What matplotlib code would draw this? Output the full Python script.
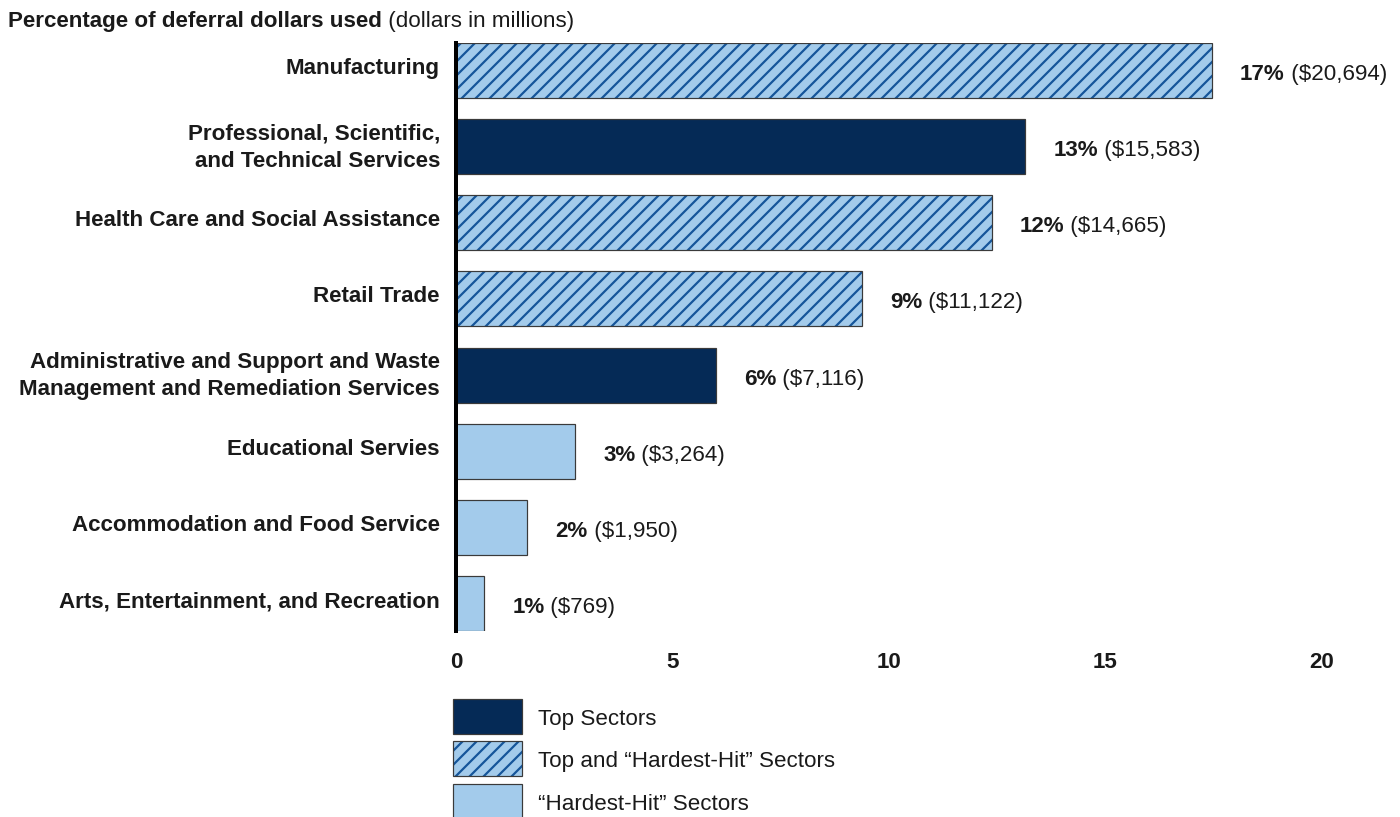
import matplotlib
matplotlib.use("Agg")
import matplotlib.pyplot as plt
from matplotlib.patches import Rectangle

# ---- data ----
sectors = [
    "Manufacturing",
    "Professional, Scientific,\nand Technical Services",
    "Health Care and Social Assistance",
    "Retail Trade",
    "Administrative and Support and Waste\nManagement and Remediation Services",
    "Educational Servies",
    "Accommodation and Food Service",
    "Arts, Entertainment, and Recreation",
]
pct_values = [17.46, 13.15, 12.37, 9.38, 6.00, 2.75, 1.65, 0.65]
pct_labels = ["17%", "13%", "12%", "9%", "6%", "3%", "2%", "1%"]
dollar_labels = ["($20,694)", "($15,583)", "($14,665)", "($11,122)",
                 "($7,116)", "($3,264)", "($1,950)", "($769)"]
groups = ["both", "top", "both", "both", "top", "hard", "hard", "hard"]
x_ticks = [0, 5, 10, 15, 20]
legend_labels = ["Top Sectors", "Top and \u201cHardest-Hit\u201d Sectors",
                 "\u201cHardest-Hit\u201d Sectors"]

# ---- style ----
W, H, DPI = 1401, 818, 84
def pt(px):
    return px * 72.0 / DPI

NAVY = "#052a56"
LIGHT = "#a3cbeb"
HATCH = "#15559a"
EDGE = "#3a3a3a"
TXT = "#1a1a1a"
FS = pt(22.4)

plt.rcParams["font.family"] = ["Liberation Sans", "DejaVu Sans"]
plt.rcParams["hatch.linewidth"] = pt(2.2)

fig = plt.figure(figsize=(W / DPI, H / DPI), dpi=DPI)
ax = fig.add_axes([456 / W, 1 - 632 / H, (1322 - 456) / W, (632 - 44) / H])

ypos = list(range(len(sectors)))
bh = 0.72
for y, v, g in zip(ypos, pct_values, groups):
    if g == "top":
        ax.barh(y, v, height=bh, color=NAVY, edgecolor=EDGE, linewidth=pt(1.2), zorder=2)
    elif g == "both":
        ax.barh(y, v, height=bh, color=LIGHT, edgecolor=HATCH, hatch="//", linewidth=0, zorder=2)
        ax.barh(y, v, height=bh, fill=False, edgecolor=EDGE, linewidth=pt(1.2), zorder=3)
    else:
        ax.barh(y, v, height=bh, color=LIGHT, edgecolor=EDGE, linewidth=pt(1.2), zorder=2)

for y, v, pl, dl in zip(ypos, pct_values, pct_labels, dollar_labels):
    t1 = ax.annotate(pl, xy=(v, y), xytext=(pt(28), pt(-3)), textcoords="offset points",
                     ha="left", va="center", fontsize=FS, fontweight="bold", color=TXT)
    ax.annotate(" " + dl, xy=(1, 0), xycoords=t1, ha="left", va="bottom",
                fontsize=FS, color=TXT)

# category labels
for y, lab in zip(ypos, sectors):
    dy = 0 if "\n" in lab else pt(3)
    ax.annotate(lab, xy=(0, y), xycoords=("axes fraction", "data"),
                xytext=(pt(-16), dy), textcoords="offset points",
                ha="right", va="center", fontsize=FS, fontweight="bold",
                color=TXT, linespacing=1.4, multialignment="right")

ax.set_xlim(0, 20)
ax.set_ylim(len(sectors) - 1 + 0.36, -0.36)
ax.set_xticks(x_ticks)
ax.set_xticklabels([str(t) for t in x_ticks], fontsize=FS, fontweight="bold", color=TXT)
ax.set_yticks([])
ax.tick_params(axis="x", length=0, pad=pt(20))
for s in ["top", "right", "bottom"]:
    ax.spines[s].set_visible(False)
ax.spines["left"].set_linewidth(pt(4))
ax.spines["left"].set_color("black")
ax.spines["left"].set_zorder(5)

# title
t = fig.text(8 / W, 1 - 21 / H, "Percentage of deferral dollars used", fontsize=FS,
             fontweight="bold", color=TXT, ha="left", va="center")
ax.annotate(" (dollars in millions)", xy=(1, 0), xycoords=t, ha="left", va="bottom",
            fontsize=FS, color=TXT, annotation_clip=False)

# legend
rows = [700, 742, 785]
styles = [dict(facecolor=NAVY, edgecolor=EDGE, linewidth=pt(1.2)),
          dict(facecolor=LIGHT, edgecolor=HATCH, hatch="//", linewidth=0),
          dict(facecolor=LIGHT, edgecolor=EDGE, linewidth=pt(1.2))]
for top, st, lab in zip(rows, styles, legend_labels):
    r = Rectangle((453 / W, 1 - (top + 35) / H), 69 / W, 35 / H,
                  transform=fig.transFigure, **st)
    fig.add_artist(r)
    if st.get("hatch"):
        fig.add_artist(Rectangle((453 / W, 1 - (top + 35) / H), 69 / W, 35 / H,
                                 transform=fig.transFigure, fill=False,
                                 edgecolor=EDGE, linewidth=pt(1.2)))
    fig.text(538 / W, 1 - (top + 20) / H, lab, fontsize=FS, color=TXT,
             ha="left", va="center")

fig.savefig("out.png", dpi=DPI)
